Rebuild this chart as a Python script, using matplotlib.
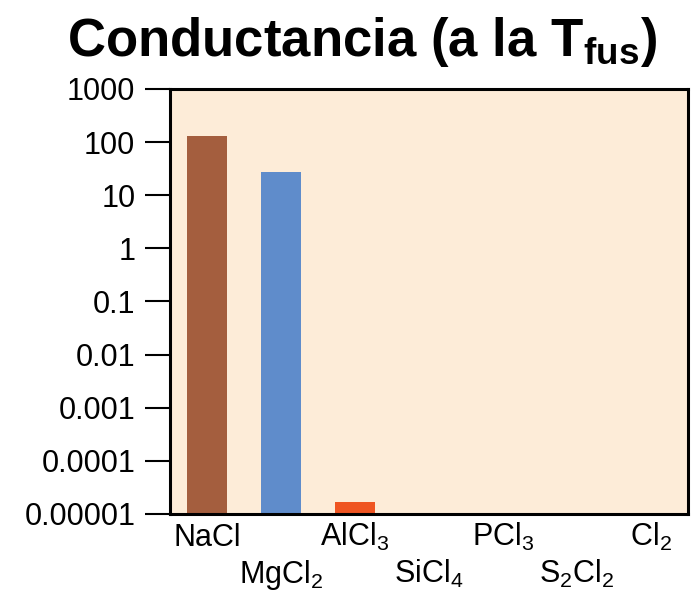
import numpy as np
import matplotlib
matplotlib.use('Agg')
import matplotlib.pyplot as plt

plt.rcParams['font.family'] = ['Liberation Sans', 'DejaVu Sans']
plt.rcParams['mathtext.fontset'] = 'custom'
plt.rcParams['mathtext.rm'] = 'Liberation Sans'
plt.rcParams['mathtext.it'] = 'Liberation Sans'
plt.rcParams['mathtext.bf'] = 'Liberation Sans:bold'

# datos
compounds = ['NaCl', 'MgCl$_2$', 'AlCl$_3$', 'SiCl$_4$', 'PCl$_3$', 'S$_2$Cl$_2$', 'Cl$_2$']
conductance = [130, 27, 1.6e-5, 0, 0, 0, 0]
bar_colors = ['#a45e3e', '#5f8ccb', '#ef5522', '#fdecd8', '#fdecd8', '#fdecd8', '#fdecd8']
ytick_vals = [1e-5, 1e-4, 1e-3, 1e-2, 1e-1, 1, 10, 100, 1000]
ytick_labels = ['0.00001', '0.0001', '0.001', '0.01', '0.1', '1', '10', '100', '1000']

fig = plt.figure(figsize=(6.97, 5.94), dpi=100)
ax = fig.add_axes([0.2439, 0.1347, 0.7432, 0.7155])
ax.set_facecolor('#fdecd8')

x = np.arange(len(compounds))
vals = [v if v > 0 else np.nan for v in conductance]
ax.bar(x, vals, width=0.54, bottom=1e-6, color=bar_colors, zorder=2)

ax.set_yscale('log')
ax.set_ylim(1e-5, 1000)
ax.set_xlim(-0.5, len(compounds) - 0.5)
ax.set_yticks(ytick_vals)
ax.set_yticklabels(ytick_labels)
ax.yaxis.set_minor_locator(matplotlib.ticker.NullLocator())
ax.tick_params(axis='y', direction='out', length=18, width=1.5, pad=7,
               labelsize=22, colors='black')
ax.set_xticks([])

for s in ax.spines.values():
    s.set_linewidth(2.2)

# etiquetas alternadas
for i, name in enumerate(compounds):
    ypos = -0.075 if i % 2 == 0 else -0.162
    ax.text(i, ypos, name, transform=ax.get_xaxis_transform(),
            ha='center', va='baseline', fontsize=22)

fig.text(0.519, 0.975, r'Conductancia (a la T$_{\mathbf{fus}}$)',
         ha='center', va='top', fontsize=38, fontweight='bold')

fig.savefig('out.png', dpi=100)
